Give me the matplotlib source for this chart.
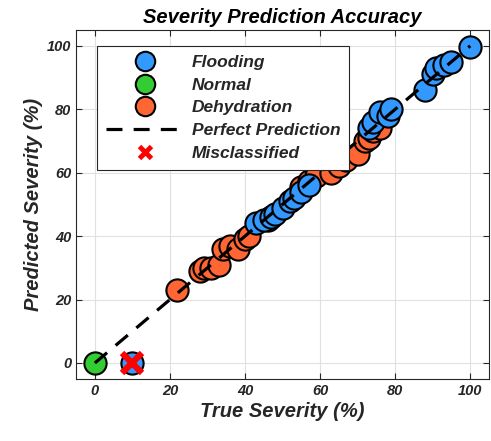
import matplotlib
matplotlib.use("Agg")
import matplotlib.pyplot as plt
from matplotlib.lines import Line2D

plt.rcParams['font.family'] = ['Liberation Sans', 'DejaVu Sans']

# Data
flood_true = [43, 45, 47, 48, 50, 52, 53, 55, 57, 73, 74, 76, 78, 79, 88, 90, 91, 93, 95, 100]
flood_pred = [44, 45, 46, 47, 49, 51, 52, 54, 56, 74, 76, 79, 78, 80, 86, 91, 93, 94, 95, 99.5]
normal_true = [0]
normal_pred = [0]
dehyd_true = [22, 28, 29, 31, 33, 34, 36, 38, 40, 41, 46, 47, 55, 57, 59, 63, 65, 67, 70, 72, 73, 74, 76]
dehyd_pred = [23, 29, 30, 30, 31, 36, 37, 36, 39, 40, 45, 46, 55.5, 57.5, 59, 60, 62, 64, 66, 70, 71, 73, 74]
mis_true = [10]
mis_pred = [0]
ticks = [0, 20, 40, 60, 80, 100]

C_FLOOD = '#3399FF'
C_NORM = '#33CC33'
C_DEHY = '#FF6633'
TXT = '#262626'

fig = plt.figure(figsize=(4.91, 4.41), dpi=100)
ax = fig.add_axes([0.155, 0.141, 0.841, 0.791])

ms = 16
ax.plot(dehyd_true, dehyd_pred, 'o', ms=ms, mfc=C_DEHY, mec='black', mew=1.5, zorder=3)
ax.plot(flood_true, flood_pred, 'o', ms=ms, mfc=C_FLOOD, mec='black', mew=1.5, zorder=3)
ax.plot(mis_true, mis_pred, 'o', ms=ms, mfc=C_FLOOD, mec='black', mew=1.5, zorder=3)
ax.plot(normal_true, normal_pred, 'o', ms=ms, mfc=C_NORM, mec='black', mew=1.5, zorder=3)
ax.plot([0, 100], [0, 100], '--', color='black', lw=2.3, dashes=(5, 3.5), zorder=4)
ax.plot(mis_true, mis_pred, 'x', ms=14, mec='#FF0000', mew=4.5, zorder=5)

ax.set_xlim(-5, 105)
ax.set_ylim(-5, 105)
ax.set_xticks(ticks)
ax.set_yticks(ticks)
ax.grid(True, color='#E0E0E0', lw=0.8)
ax.set_axisbelow(True)
ax.tick_params(direction='in', top=True, right=True, length=4, colors=TXT,
               labelsize=10.5)
for lab in ax.get_xticklabels() + ax.get_yticklabels():
    lab.set_fontweight('bold')
    lab.set_fontstyle('italic')
for s in ax.spines.values():
    s.set_color('#262626')
    s.set_linewidth(0.8)

ax.set_xlabel('True Severity (%)', fontsize=14.5, fontweight='bold', fontstyle='italic', color=TXT, labelpad=3)
ax.set_ylabel('Predicted Severity (%)', fontsize=14.5, fontweight='bold', fontstyle='italic', color=TXT, labelpad=3)
ax.set_title('Severity Prediction Accuracy', fontsize=14.5, fontweight='bold', fontstyle='italic', color='black', pad=5)

lms = 14
handles = [
    Line2D([], [], ls='none', marker='o', ms=lms, mfc=C_FLOOD, mec='black', mew=1.5),
    Line2D([], [], ls='none', marker='o', ms=lms, mfc=C_NORM, mec='black', mew=1.5),
    Line2D([], [], ls='none', marker='o', ms=lms, mfc=C_DEHY, mec='black', mew=1.5),
    Line2D([], [], ls='--', color='black', lw=2.3, dashes=(5, 3.5)),
    Line2D([], [], ls='none', marker='x', ms=9, mec='#FF0000', mew=3.5),
]
labels = ['Flooding', 'Normal', 'Dehydration', 'Perfect Prediction', 'Misclassified']
leg = ax.legend(handles, labels, loc='upper left', bbox_to_anchor=(0.051, 0.954),
                prop={'size': 12.5, 'weight': 'bold', 'style': 'italic'},
                fancybox=False, framealpha=1, edgecolor='#262626',
                handlelength=4.5, labelspacing=0.44, borderpad=0.5,
                borderaxespad=0, handletextpad=0.46)
leg.get_frame().set_linewidth(0.8)
for t in leg.get_texts():
    t.set_color(TXT)

fig.savefig('out.png', dpi=100)
